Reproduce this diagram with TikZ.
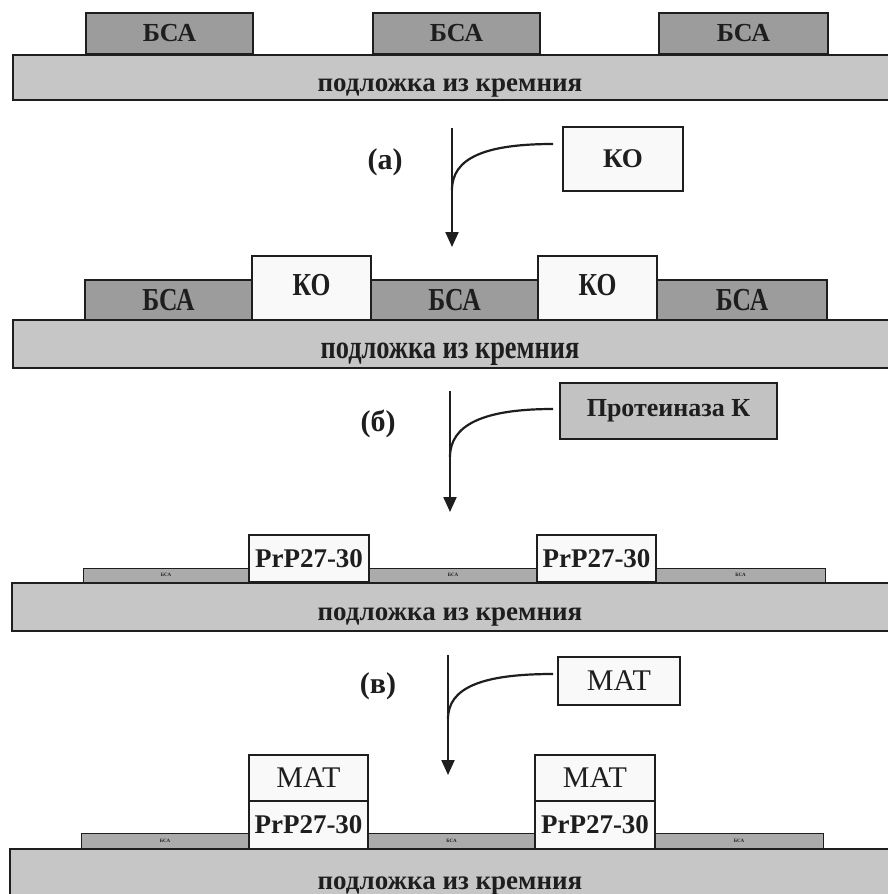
\documentclass[tikz,border=0pt]{standalone}
\usepackage{fontspec}
\setmainfont{Liberation Serif}
\newfontfamily\narrowfont[FakeStretch=0.8]{Liberation Serif}
\usetikzlibrary{arrows.meta}
\definecolor{bsagray}{HTML}{9C9C9C}
\definecolor{subgray}{HTML}{C6C6C6}
\definecolor{thingray}{HTML}{ABABAB}
\definecolor{enzgray}{HTML}{C2C2C2}
\definecolor{boxwhite}{HTML}{F9F9F9}
\definecolor{ink}{HTML}{1E1E1E}
\newcommand\mkbox[7]{\node[#1, minimum width={#5-#3}, minimum height={#6-#4}] (#2) at ({(#3+#5)/2},{(#4+#6)/2}) {#7};}
\tikzset{
  blk/.style={draw=ink, line width=1.3pt, inner sep=0pt, outer sep=0pt, text=ink},
  bsa/.style={blk, fill=bsagray, font=\bfseries\fontsize{26}{26}\selectfont},
  bsatall/.style={blk, fill=bsagray, font=\narrowfont\bfseries\fontsize{32}{32}\selectfont},
  kotall/.style={blk, fill=boxwhite, font=\narrowfont\bfseries\fontsize{32}{32}\selectfont},
  thin/.style={blk, line width=1pt, fill=thingray, font=\bfseries\fontsize{5}{5}\selectfont},
  prp/.style={blk, fill=boxwhite, font=\bfseries\fontsize{27}{27}\selectfont},
  mat/.style={blk, fill=boxwhite, font=\fontsize{30}{30}\selectfont},
  ko/.style={blk, fill=boxwhite, font=\bfseries\fontsize{27}{27}\selectfont},
  enz/.style={blk, fill=enzgray, font=\bfseries\fontsize{26}{26}\selectfont},
  sub/.style={blk, fill=subgray},
  subtop/.style={draw=ink, line width=2.6pt},
  subtext/.style={text=ink, inner sep=0pt, anchor=base, font=\bfseries\fontsize{27}{27}\selectfont},
  subtexttall/.style={text=ink, inner sep=0pt, anchor=base, font=\narrowfont\bfseries\fontsize{33}{33}\selectfont},
  lbl/.style={text=ink, inner sep=0pt, font=\bfseries\fontsize{30}{30}\selectfont},
  arr/.style={draw=ink, line width=2.2pt, -{Triangle[length=15pt,width=13pt]}},
  crv/.style={draw=ink, line width=2.2pt},
}
\begin{document}
\begin{tikzpicture}[x=1pt,y=-1pt]
\path[use as bounding box] (0,0) rectangle (888,894);
\clip (0,0) rectangle (888,894);
\fill[white] (0,0) rectangle (888,894);

% ---------- row 1
\mkbox{bsa}{r1b1}{86}{13}{253}{54}{БСА}
\mkbox{bsa}{r1b2}{373}{13}{540}{54}{БСА}
\mkbox{bsa}{r1b3}{659}{13}{828}{54}{БСА}
\mkbox{sub}{s1}{13}{55}{900}{100}{}
\draw[subtop] (s1.north west) -- (s1.north east);
\node[subtext] (t1) at (450,91) {подложка из кремния};

% ---------- step (a)
\coordinate (a0) at (452,128);
\coordinate (a1) at (452,247);
\coordinate (aj) at (452,190);
\coordinate (ae) at (553,144);
\mkbox{ko}{koa}{563}{127}{683}{191}{КО}
\node[lbl] (la) at (385,162) {(а)};
\draw[arr] (a0) -- (a1);
\draw[crv] (aj) .. controls (452,158) and (485,144) .. (ae);

% ---------- row 2
\mkbox{bsatall}{r2b1}{85}{280}{252}{320}{БСА}
\mkbox{kotall}{r2k1}{252}{256}{371}{320}{\raisebox{6pt}{КО}}
\mkbox{bsatall}{r2b2}{371}{280}{538}{320}{БСА}
\mkbox{kotall}{r2k2}{538}{256}{657}{320}{\raisebox{6pt}{КО}}
\mkbox{bsatall}{r2b3}{657}{280}{827}{320}{БСА}
\mkbox{sub}{s2}{13}{320}{900}{368}{}
\draw[subtop] (s2.north west) -- (s2.north east);
\node[subtexttall] (t2) at (450,358) {подложка из кремния};

% ---------- step (b)
\coordinate (b0) at (450,391);
\coordinate (b1) at (450,512);
\coordinate (bj) at (450,457);
\coordinate (be) at (553,409);
\mkbox{enz}{enzb}{560}{383}{777}{439}{Протеиназа К}
\node[lbl] (lb) at (378,424) {(б)};
\draw[arr] (b0) -- (b1);
\draw[crv] (bj) .. controls (450,425) and (483,409) .. (be);

% ---------- row 3
\mkbox{thin}{r3b1}{83}{568}{249}{582}{БСА}
\mkbox{thin}{r3b2}{369}{568}{537}{582}{БСА}
\mkbox{thin}{r3b3}{656}{568}{825}{582}{БСА}
\mkbox{prp}{r3p1}{249}{535}{369}{582}{PrP27-30}
\mkbox{prp}{r3p2}{537}{535}{656}{582}{PrP27-30}
\mkbox{sub}{s3}{12}{583}{900}{631}{}
\draw[subtop] (s3.north west) -- (s3.north east);
\node[subtext] (t3) at (450,620) {подложка из кремния};

% ---------- step (v)
\coordinate (c0) at (448,655);
\coordinate (c1) at (448,775);
\coordinate (cj) at (448,719);
\coordinate (ce) at (553,674);
\mkbox{mat}{matc}{558}{657}{680}{705}{МАТ}
\node[lbl] (lc) at (378,686) {(в)};
\draw[arr] (c0) -- (c1);
\draw[crv] (cj) .. controls (448,688) and (481,674) .. (ce);

% ---------- row 4
\mkbox{thin}{r4b1}{81}{833}{249}{849}{БСА}
\mkbox{thin}{r4b2}{368}{833}{535}{849}{БСА}
\mkbox{thin}{r4b3}{655}{833}{823}{849}{БСА}
\mkbox{prp}{r4p1}{249}{801}{368}{849}{PrP27-30}
\mkbox{prp}{r4p2}{535}{801}{655}{849}{PrP27-30}
\mkbox{mat}{r4m1}{249}{755}{368}{801}{МАТ}
\mkbox{mat}{r4m2}{535}{755}{655}{801}{МАТ}
\mkbox{sub}{s4}{10}{849}{900}{910}{}
\draw[subtop] (s4.north west) -- (s4.north east);
\node[subtext] (t4) at (450,889) {подложка из кремния};
\end{tikzpicture}
\end{document}
